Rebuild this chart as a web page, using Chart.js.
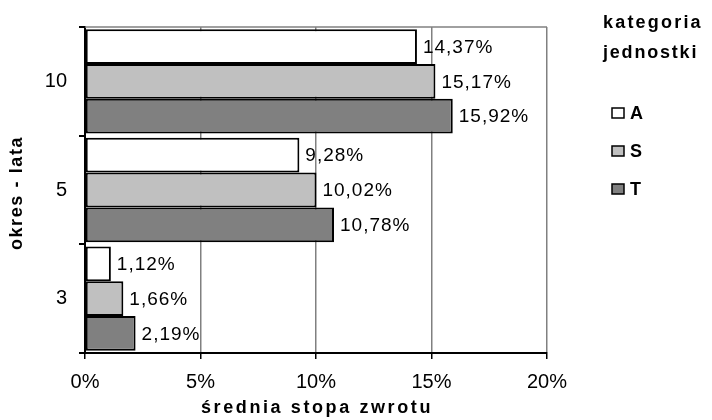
<!DOCTYPE html>
<html>
<head>
<meta charset="utf-8">
<script src="https://cdn.jsdelivr.net/npm/chart.js@4"></script>
<style>
  html, body { margin: 0; padding: 0; background: #fff; }
</style>
</head>
<body>
<canvas id="returnChart" width="712" height="420"></canvas>
<script>
  // Data
  const categories = ["10", "5", "3"];
  const seriesNames = ["A", "S", "T"];
  const valuesA = [14.37, 9.28, 1.12];
  const valuesS = [15.17, 10.02, 1.66];
  const valuesT = [15.92, 10.78, 2.19];
  const xTicks = [0, 5, 10, 15, 20];

  const fillColors = ["#ffffff", "#c0c0c0", "#808080"];
  const FONT = "'Liberation Sans', Arial, sans-serif";

  // value labels at the end of each bar
  const valueLabels = {
    id: "valueLabels",
    afterDatasetsDraw(chart) {
      const ctx = chart.ctx;
      ctx.save();
      ctx.font = "19px " + FONT;
      ctx.letterSpacing = "1px";
      ctx.fillStyle = "#000";
      ctx.textAlign = "left";
      ctx.textBaseline = "middle";
      chart.data.datasets.forEach((ds, i) => {
        chart.getDatasetMeta(i).data.forEach((bar, j) => {
          const txt = ds.data[j].toFixed(2).replace(".", ",") + "%";
          ctx.fillText(txt, bar.x + 6, bar.y + 1);
        });
      });
      ctx.letterSpacing = "0px";
      ctx.restore();
    },
  };

  // gray top frame line
  const topFrame = {
    id: "topFrame",
    beforeDatasetsDraw(chart) {
      const a = chart.chartArea;
      const ctx = chart.ctx;
      ctx.save();
      ctx.strokeStyle = "#808080";
      ctx.lineWidth = 1.5;
      ctx.beginPath();
      ctx.moveTo(a.left, a.top);
      ctx.lineTo(a.right, a.top);
      ctx.stroke();
      ctx.restore();
    },
  };

  // axis titles (wide letter spacing like the original)
  const axisTitles = {
    id: "axisTitles",
    afterDraw(chart) {
      const a = chart.chartArea;
      const ctx = chart.ctx;
      ctx.save();
      ctx.fillStyle = "#000";
      ctx.font = "bold 18px " + FONT;
      ctx.letterSpacing = "2.6px";
      ctx.textAlign = "center";
      ctx.textBaseline = "middle";
      ctx.fillText("średnia stopa zwrotu", (a.left + a.right) / 2 + 1, 408);
      ctx.letterSpacing = "1.6px";
      ctx.translate(17, (a.top + a.bottom) / 2 + 3);
      ctx.rotate(-Math.PI / 2);
      ctx.fillText("okres - lata", 0, 0);
      ctx.letterSpacing = "0px";
      ctx.restore();
    },
  };

  // legend on the right
  const sideLegend = {
    id: "sideLegend",
    afterDraw(chart) {
      const ctx = chart.ctx;
      ctx.save();
      ctx.fillStyle = "#000";
      ctx.textBaseline = "middle";
      ctx.textAlign = "left";
      ctx.font = "bold 18px " + FONT;
      ctx.letterSpacing = "2.2px";
      ctx.fillText("kategoria", 603, 23);
      ctx.letterSpacing = "1.8px";
      ctx.fillText("jednostki", 603, 53);
      ctx.letterSpacing = "0px";
      const rows = [113, 151, 189];
      chart.data.datasets.forEach((ds, i) => {
        const y = rows[i];
        ctx.fillStyle = ds.backgroundColor;
        ctx.fillRect(612, y - 5, 12, 10);
        ctx.strokeStyle = "#000";
        ctx.lineWidth = 1.5;
        ctx.strokeRect(612, y - 5, 12, 10);
        ctx.fillStyle = "#000";
        ctx.fillText(ds.label, 630, y + 1);
      });
      ctx.restore();
    },
  };

  const ctx = document.getElementById("returnChart").getContext("2d");
  const returnChart = new Chart(ctx, {
    type: "bar",
    data: {
      labels: categories,
      datasets: [valuesA, valuesS, valuesT].map((vals, i) => ({
        label: seriesNames[i],
        data: vals,
        backgroundColor: fillColors[i],
        borderColor: "#000",
        borderWidth: 2,
        borderSkipped: false,
        categoryPercentage: 0.96,
        barPercentage: 1.0,
      })),
    },
    options: {
      indexAxis: "y",
      responsive: false,
      animation: false,
      layout: {
        padding: { top: 27, right: 165, left: 0, bottom: 0 },
      },
      plugins: {
        legend: { display: false },
        tooltip: { enabled: false },
      },
      scales: {
        x: {
          min: xTicks[0],
          max: xTicks[xTicks.length - 1],
          afterBuildTicks(scale) {
            scale.ticks = xTicks.map((v) => ({ value: v }));
          },
          grid: {
            color: "#808080",
            lineWidth: 1.5,
            tickColor: "#000",
            tickLength: 6,
          },
          border: { color: "#000", width: 2 },
          ticks: {
            color: "#000",
            font: { family: FONT, size: 20 },
            padding: 11,
            callback: (v) => v + "%",
          },
          afterFit(scale) {
            scale.height = 67;
          },
        },
        y: {
          grid: {
            drawOnChartArea: false,
            color: "#000",
            lineWidth: 2,
            tickLength: 6,
            offset: true,
          },
          border: { color: "#000", width: 2 },
          ticks: {
            color: "#000",
            font: { family: FONT, size: 20 },
            padding: 12,
          },
          afterFit(scale) {
            scale.width = 85;
          },
        },
      },
    },
    plugins: [topFrame, valueLabels, axisTitles, sideLegend],
  });
</script>
</body>
</html>
